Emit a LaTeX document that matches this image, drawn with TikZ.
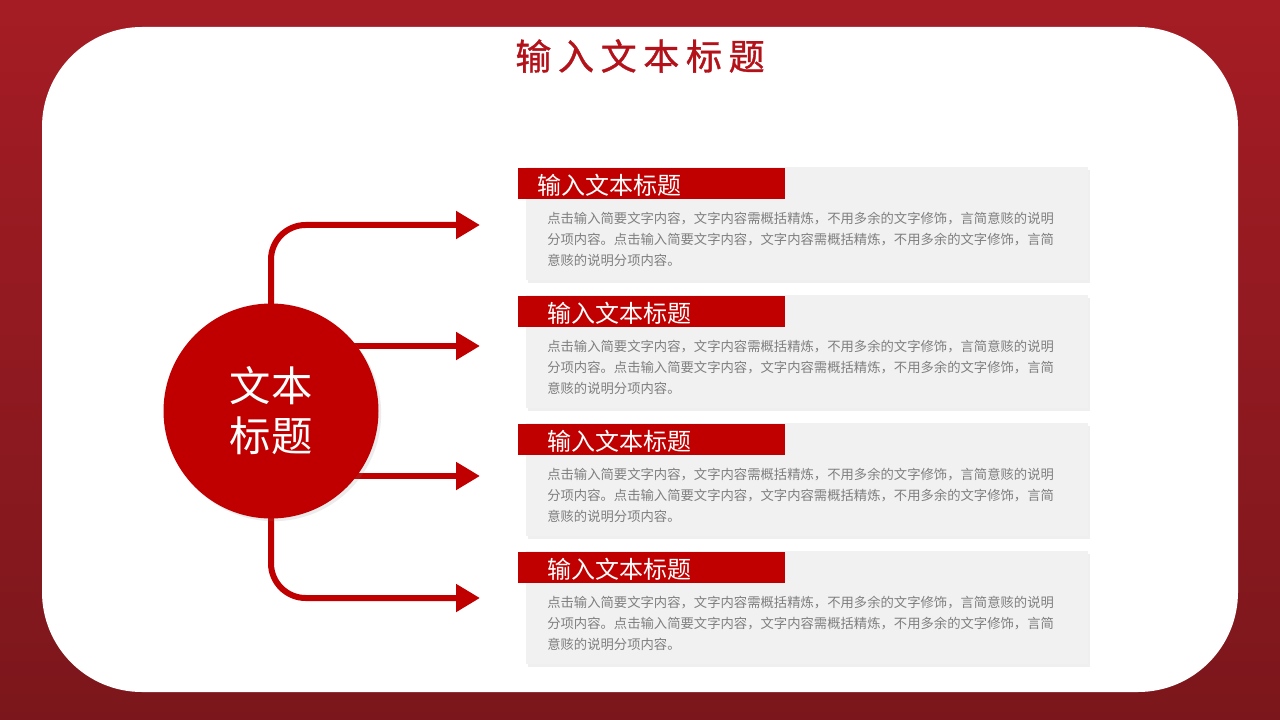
\documentclass[tikz,border=0pt]{standalone}
\usepackage{fontspec}
\usepackage{tikz}
\usetikzlibrary{arrows.meta,positioning,shadows}

\newfontfamily\cjk{Noto Sans CJK SC}
\newfontfamily\cjkheavy[FakeBold=1]{Noto Sans CJK SC}
\definecolor{deepred}{HTML}{C00000}
\definecolor{titlered}{HTML}{B3121A}
\definecolor{bgtop}{HTML}{A51C24}
\definecolor{bgbot}{HTML}{7B171C}
\definecolor{cardgray}{HTML}{F1F1F1}
\definecolor{bodygray}{HTML}{7F7F7F}
\pgfdeclarelayer{ground}
\pgfdeclarelayer{back}
\pgfsetlayers{ground,back,main}
\newcommand{\itemtext}{点击输入简要文字内容，文字内容需概括精炼，不用多余的文字修饰，言简意赅的说明\\分项内容。点击输入简要文字内容，文字内容需概括精炼，不用多余的文字修饰，言简\\意赅的说明分项内容。}

\begin{document}
\begin{tikzpicture}[x=0.75pt, y=-0.75pt, >={Triangle[length=18pt,width=20pt]}, font=\cjk]
  \tikzstyle{card}=[fill=cardgray, minimum width=421.5pt, minimum height=84.75pt, inner sep=0pt,
                    drop shadow={opacity=0.12, shadow xshift=1.5pt, shadow yshift=-2.5pt}]
  \tikzstyle{tab}=[fill=deepred, minimum width=200.25pt, minimum height=23.25pt, inner sep=0pt]
  \tikzstyle{tabtext}=[text=white, font=\cjk\fontsize{18pt}{18pt}\selectfont, anchor=west, inner sep=0pt]
  \tikzstyle{body}=[text=bodygray, font=\cjk\fontsize{10pt}{15.75pt}\selectfont, align=left, anchor=west, inner sep=0pt]
  \tikzstyle{link}=[->, draw=deepred, line width=4.5pt, rounded corners=26pt]

  \useasboundingbox (0,0) rectangle (1280,720);
  \begin{pgfonlayer}{ground}
    \fill[top color=bgtop, bottom color=bgbot] (0,0) rectangle (1280,720);
    \fill[white, rounded corners=75pt] (42,27) rectangle (1238,692);
  \end{pgfonlayer}

  \node[text=titlered, font=\cjkheavy\fontsize{27pt}{27pt}\selectfont] (title) at (640,56)
    {输\hspace{5pt}入\hspace{5pt}文\hspace{5pt}本\hspace{5pt}标\hspace{5pt}题};

  \node[circle, fill=deepred, minimum size=161.25pt, inner sep=0pt, text=white, align=center,
        font=\cjk\fontsize{31pt}{37.5pt}\selectfont,
        drop shadow={opacity=0.15, shadow xshift=2pt, shadow yshift=-2pt}] (hub) at (271,411) {文本\\标题};

  \coordinate (tip1) at (480,225);
  \coordinate (tip2) at (480,346);
  \coordinate (tip3) at (480,476);
  \coordinate (tip4) at (480,598);

  \begin{pgfonlayer}{back}
    \draw[link] (hub.center) |- (tip1);
    \draw[link] (hub.center |- tip2) -- (tip2);
    \draw[link] (hub.center |- tip3) -- (tip3);
    \draw[link] (hub.center) |- (tip4);
  \end{pgfonlayer}

  % first item
  \node[card] (card1) at (807,223.5) {};
  \node[tab]  (tab1)  at (651.5,183.5) {};
  \node[tabtext] (head1) at (537,185) {输入文本标题};
  \node[body] (text1) at (547,239) {\itemtext};

  % second item
  \node[card] (card2) at (807,351.5) {};
  \node[tab]  (tab2)  at (651.5,311.5) {};
  \node[tabtext] (head2) at (547,313) {输入文本标题};
  \node[body] (text2) at (547,367) {\itemtext};

  % third item
  \node[card] (card3) at (807,479.5) {};
  \node[tab]  (tab3)  at (651.5,439.5) {};
  \node[tabtext] (head3) at (547,441) {输入文本标题};
  \node[body] (text3) at (547,495) {\itemtext};

  % fourth item
  \node[card] (card4) at (807,607.5) {};
  \node[tab]  (tab4)  at (651.5,567.5) {};
  \node[tabtext] (head4) at (547,569) {输入文本标题};
  \node[body] (text4) at (547,623) {\itemtext};
\end{tikzpicture}
\end{document}
